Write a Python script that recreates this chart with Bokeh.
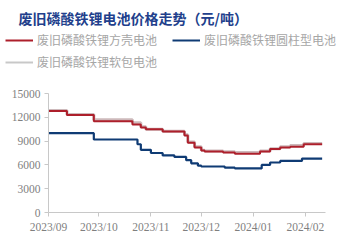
import pandas as pd
from bokeh.plotting import figure
from bokeh.layouts import column
from bokeh.models import (Range1d, FixedTicker, DatetimeTickFormatter, Legend, LegendItem, Label)
from bokeh.embed import file_html
from bokeh.resources import INLINE

title_text = "废旧磷酸铁锂电池价格走势（元/吨）"
names = ["废旧磷酸铁锂方壳电池", "废旧磷酸铁锂圆柱型电池", "废旧磷酸铁锂软包电池"]

red_dates = ["2023-09-01", "2023-09-12", "2023-09-28", "2023-10-21", "2023-10-26", "2023-10-29",
             "2023-11-08", "2023-11-21", "2023-11-23", "2023-11-27", "2023-12-01", "2023-12-03",
             "2023-12-14", "2023-12-21", "2024-01-05", "2024-01-11", "2024-01-17", "2024-01-23",
             "2024-01-31", "2024-02-11"]
red_vals = [12800, 12300, 11500, 11100, 10700, 10500,
            10200, 9700, 8800, 8200, 7800, 7700,
            7550, 7400, 7700, 8000, 8200, 8300,
            8600, 8600]

gray_dates = red_dates
gray_vals = [12850, 12350, 11700, 11300, 10800, 10500,
             10250, 9800, 8900, 8300, 7850, 7750,
             7650, 7550, 7750, 8050, 8300, 8450,
             8700, 8700]

blue_dates = ["2023-09-01", "2023-09-28", "2023-10-24", "2023-10-26", "2023-11-01", "2023-11-08",
              "2023-11-15", "2023-11-22", "2023-11-25", "2023-11-29", "2023-12-01", "2023-12-15",
              "2023-12-21", "2024-01-06", "2024-01-11", "2024-01-17", "2024-01-30", "2024-02-11"]
blue_vals = [10000, 9200, 8600, 7900, 7500, 7200,
             7000, 6600, 6200, 5900, 5800, 5650,
             5550, 6000, 6300, 6500, 6800, 6800]

tick_dates = ["2023-09-01", "2023-10-01", "2023-11-01", "2023-12-01", "2024-01-01", "2024-02-01"]
y_ticks = [0, 3000, 6000, 9000, 12000, 15000]

colors = ["#ad1f2b", "#0f3b74", "#c8c8c8"]

def dt(lst):
    return pd.to_datetime(lst)

# header figure: title + legend
h = figure(width=341, height=80, output_backend="svg", toolbar_location=None,
           x_range=Range1d(0, 341), y_range=Range1d(0, 80),
           min_border_left=0, min_border_right=0, min_border_top=0, min_border_bottom=0)
h.frame_align = False
h.axis.visible = False
h.grid.visible = False
h.outline_line_color = None
hr = [h.line([-50, -40], [-50, -50], line_color=c, line_width=2) for c in colors]
t = Label(x=18, y=80 - 17, text=title_text,
          text_font="Noto Sans CJK SC", text_font_style="bold", text_font_size="14px",
          text_color="#223f8c", text_baseline="middle")
h.add_layout(t)
legend = Legend(items=[LegendItem(label=names[i], renderers=[hr[i]]) for i in range(3)],
                location=(5, 80 - 70), ncols=2, orientation="horizontal")
legend.padding = 0
legend.margin = 0
legend.spacing = 5
legend.label_standoff = 4
legend.glyph_width = 28
legend.glyph_height = 14
legend.label_height = 14
legend.label_width = 130
legend.label_text_font = "Noto Sans CJK SC"
legend.label_text_font_size = "12px"
legend.label_text_color = "#a6a6a6"
legend.border_line_alpha = 0
legend.background_fill_alpha = 0
h.add_layout(legend, "center")

# main chart
p = figure(width=341, height=166, output_backend="svg", toolbar_location=None,
           x_axis_type="datetime",
           x_range=Range1d(pd.Timestamp("2023-09-01"), pd.Timestamp("2024-02-13")),
           y_range=Range1d(0, 15000),
           min_border_left=48, min_border_right=16, min_border_top=13, min_border_bottom=34)
p.frame_align = False
p.outline_line_color = None
p.xgrid.visible = False
p.ygrid.visible = False

p.step(dt(gray_dates), gray_vals, mode="after", line_color="#cdb9bb", line_width=3)
p.step(dt(red_dates), red_vals, mode="after", line_color=colors[0], line_width=2)
p.step(dt(blue_dates), blue_vals, mode="after", line_color=colors[1], line_width=2.2)

p.xaxis.ticker = FixedTicker(ticks=[pd.Timestamp(d).value / 1e6 for d in tick_dates])
fmt = "%Y/%m"
p.xaxis.formatter = DatetimeTickFormatter(years=fmt, months=fmt, days=fmt, hours=fmt,
                                          minutes=fmt, seconds=fmt, milliseconds=fmt,
                                          minsec=fmt, hourmin=fmt)
p.yaxis.ticker = FixedTicker(ticks=y_ticks)
for ax in (p.xaxis, p.yaxis):
    ax.axis_line_color = "#c8c8c8"
    ax.major_tick_line_color = "#c8c8c8"
    ax.minor_tick_line_color = None
    ax.major_tick_in = 0
    ax.major_tick_out = 4
    ax.major_label_text_font = "Liberation Serif"
    ax.major_label_text_color = "#7f7f7f"
    ax.major_label_text_font_size = "11.5px"
    ax.major_label_standoff = 4

layout = column(h, p, spacing=0)
open("out.html", "w").write(file_html(layout, INLINE))
